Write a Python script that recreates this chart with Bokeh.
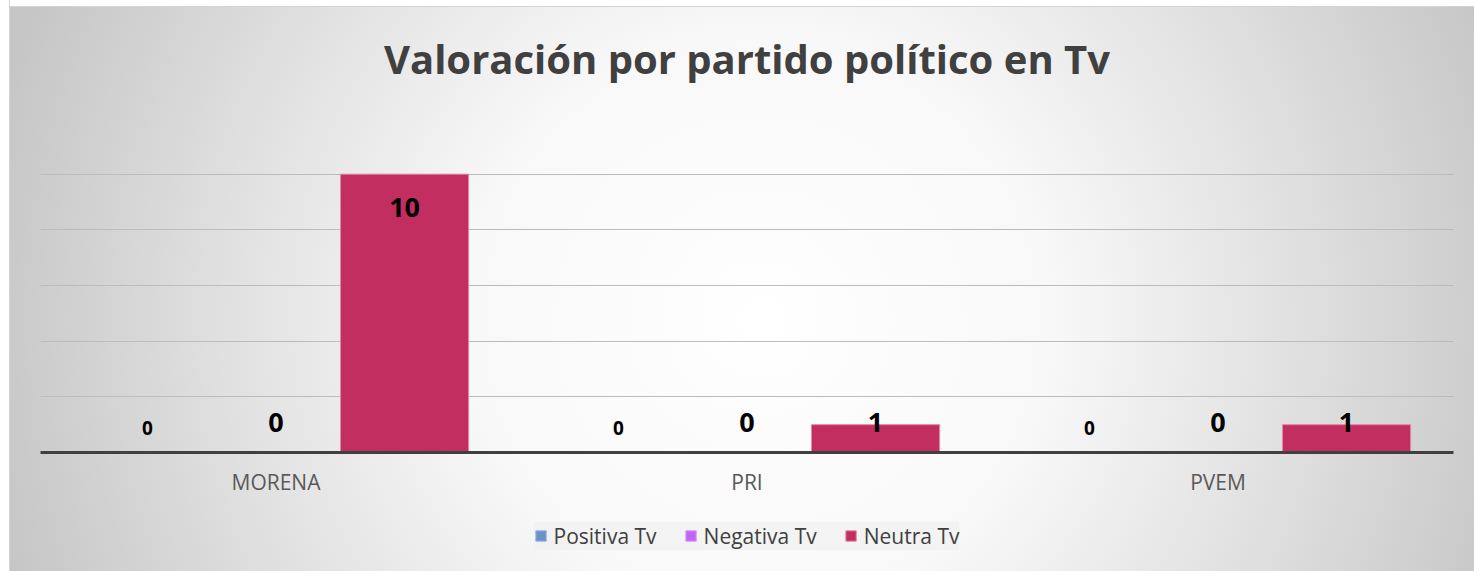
from bokeh.plotting import figure
from bokeh.layouts import column
from bokeh.models import ColumnDataSource, FactorRange, Range1d, Legend, LegendItem, FixedTicker
from bokeh.transform import dodge
from bokeh.core.properties import value
from bokeh.embed import file_html
from bokeh.resources import INLINE

# ---- data ----
categories = ["MORENA", "PRI", "PVEM"]
series_names = ["Positiva Tv", "Negativa Tv", "Neutra Tv"]
positiva = [0, 0, 0]
negativa = [0, 0, 0]
neutra = [10, 1, 1]
title_text = "Valoración por partido político en Tv"

colors = ["#6B93C8", "#BF66F5", "#C22E60"]
outlines = ["#9BB5DA", "#D89AF9", "#E08AA8"]

src = ColumnDataSource(dict(
    cat=categories,
    positiva=positiva,
    negativa=negativa,
    neutra=neutra,
    positiva_lbl=[str(v) for v in positiva],
    negativa_lbl=[str(v) for v in negativa],
    neutra_lbl=[str(v) for v in neutra],
    neutra_dy=[33 if v >= 2 else -2 for v in neutra],
))

W = 1474


def strip(height):
    f = figure(
        x_range=Range1d(0, 1), y_range=Range1d(0, height),
        width=W, height=height, title=None,
        output_backend="svg", toolbar_location=None,
        x_axis_type=None, y_axis_type=None,
        min_border_left=40, min_border_right=21, min_border_top=0, min_border_bottom=0,
    )
    f.background_fill_color = None
    f.border_fill_color = None
    f.outline_line_color = None
    return f


# ---- title strip ----
tf = strip(100)
tf.text(x=[0.5], y=[42], text=[title_text],
        text_font=value("Open Sans"), text_font_style="bold", text_font_size="40px",
        text_color="#404040", text_align="center", text_baseline="middle")

# ---- chart ----
p = figure(
    x_range=FactorRange(factors=categories, range_padding=0),
    y_range=Range1d(0, 12),
    width=W, height=400, title=None,
    output_backend="svg", toolbar_location=None,
    min_border_left=40, min_border_right=21,
    min_border_top=18, min_border_bottom=48,
)
p.background_fill_color = None
p.border_fill_color = None
p.outline_line_color = None

offsets = [-0.273, 0.0, 0.273]
fields = ["positiva", "negativa", "neutra"]
for f, off, c, oc in zip(fields, offsets, colors, outlines):
    p.vbar(x=dodge("cat", off, range=p.x_range), top=f, width=0.272, source=src,
           fill_color=c, line_color=oc, line_width=1)

# data labels
p.text(x=dodge("cat", offsets[0], range=p.x_range), y="positiva", text="positiva_lbl", source=src,
       text_font=value("Open Sans"), text_font_style="bold", text_font_size="19px",
       text_align="center", text_baseline="middle", text_color="#000000", y_offset=-25)
p.text(x=dodge("cat", offsets[1], range=p.x_range), y="negativa", text="negativa_lbl", source=src,
       text_font=value("Open Sans"), text_font_style="bold", text_font_size="27px",
       text_align="center", text_baseline="middle", text_color="#000000", y_offset=-30)
p.text(x=dodge("cat", offsets[2], range=p.x_range), y="neutra", text="neutra_lbl", source=src,
       text_font=value("Open Sans"), text_font_style="bold", text_font_size="27px",
       text_align="center", text_baseline="middle", text_color="#000000", y_offset="neutra_dy")

# axes
p.yaxis.visible = False
p.xaxis.axis_line_color = "#404040"
p.xaxis.axis_line_width = 3
p.xaxis.major_tick_line_color = None
p.xaxis.minor_tick_line_color = None
p.xaxis.major_label_text_font = "Open Sans"
p.xaxis.major_label_text_font_size = "21px"
p.xaxis.major_label_text_color = "#595959"
p.xaxis.major_label_standoff = 9

p.xgrid.grid_line_color = None
p.ygrid.ticker = FixedTicker(ticks=[2, 4, 6, 8, 10, 12])
p.ygrid.grid_line_color = "#bcbcbc"
p.ygrid.grid_line_width = 1

# ---- legend strip ----
lf = strip(71)
lf.x_range = Range1d(100, 101)
lf.y_range = Range1d(100, 101)
# proxies for the legend swatches: same series, drawn off-range so only the swatch shows
legend_renderers = [
    lf.vbar(x=f, top=f, width=0.0, source=src, fill_color=c, line_color=oc, line_width=1)
    for f, c, oc in zip(fields, colors, outlines)
]
legend = Legend(
    items=[LegendItem(label=n, renderers=[r]) for n, r in zip(series_names, legend_renderers)],
    orientation="horizontal", location="center",
    label_text_font="Open Sans", label_text_font_size="21px", label_text_color="#404040",
    glyph_width=13, glyph_height=13, label_standoff=7, spacing=27,
    padding=8, margin=0,
    background_fill_color="#eeeeee", background_fill_alpha=0.55,
    border_line_color=None,
)
lf.add_layout(legend, "center")

layout = column(tf, p, lf, spacing=0)
layout.styles = {
    "background": (
        "linear-gradient(to right, #ffffff 0px, #ffffff 9px, #d4d4d4 9px, #d4d4d4 10px, transparent 10px),"
        "linear-gradient(to bottom, #ffffff 0px, #ffffff 6px, #d4d4d4 6px, #d4d4d4 7px, transparent 7px),"
        "radial-gradient(circle 830px at 760px 320px, #ffffff 0%, #f8f8f8 35%, #e0e0e0 65%, #c6c6c6 95%)"
    )
}

open("out.html", "w").write(file_html(layout, INLINE))
